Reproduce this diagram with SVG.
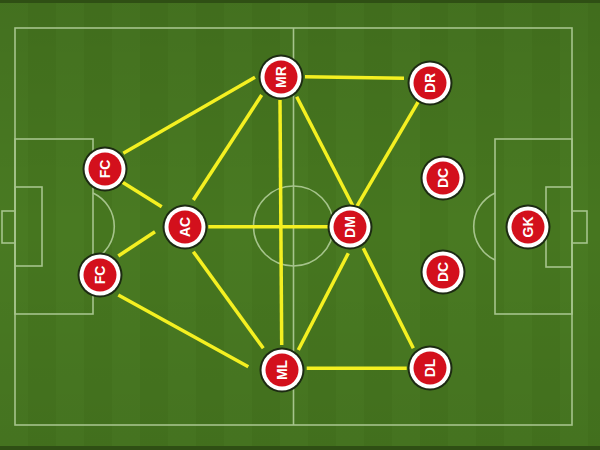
<svg xmlns="http://www.w3.org/2000/svg" width="600" height="450" viewBox="0 0 600 450">
  <defs>
    <pattern id="stripes" x="0" y="0" width="56" height="450" patternUnits="userSpaceOnUse">
      <rect x="0" y="0" width="28" height="450" fill="#497a22"/>
      <rect x="28" y="0" width="28" height="450" fill="#46761f"/>
    </pattern>
    <linearGradient id="shade" x1="0" y1="0" x2="0" y2="1">
      <stop offset="0" stop-color="#000" stop-opacity="0.08"/>
      <stop offset="0.5" stop-color="#000" stop-opacity="0"/>
      <stop offset="1" stop-color="#000" stop-opacity="0.06"/>
    </linearGradient>
  </defs>
  <style>
    .pitch { fill: none; stroke: #a6c48c; stroke-width: 1.6; }
    .link { stroke: #f4f021; stroke-width: 3.5; stroke-linecap: butt; fill: none; }
    .rim { fill: #1c2a12; }
    .ring { fill: #ffffff; }
    .core { fill: #d3101c; }
    .lbl { font-family: "Liberation Sans", Arial, sans-serif; font-weight: bold; font-size: 14px; fill: #ffffff; text-anchor: middle; dominant-baseline: central; }
  </style>

  <!-- background -->
  <rect x="0" y="0" width="600" height="450" fill="url(#stripes)"/>
  <rect x="0" y="0" width="600" height="450" fill="url(#shade)"/>
  <rect x="0" y="0" width="600" height="3" fill="#2f4f14"/>
  <rect x="0" y="446" width="600" height="4" fill="#2f4f14"/>

  <!-- pitch markings -->
  <g id="pitch">
    <rect class="pitch" x="15" y="28" width="557" height="397"/>
    <line class="pitch" x1="293.5" y1="28" x2="293.5" y2="425"/>
    <circle class="pitch" cx="293.5" cy="226" r="40"/>
    <!-- left -->
    <rect class="pitch" x="15" y="139" width="78" height="175"/>
    <rect class="pitch" x="15" y="187" width="27" height="79"/>
    <rect class="pitch" x="2" y="211" width="13" height="32"/>
    <path class="pitch" d="M93,193 A37,37 0 0 1 93,260"/>
    <!-- right -->
    <rect class="pitch" x="495" y="139" width="77" height="175"/>
    <rect class="pitch" x="546" y="187" width="26" height="80"/>
    <rect class="pitch" x="572" y="211" width="15" height="32"/>
    <path class="pitch" d="M495,193 A37,37 0 0 0 495,260"/>
  </g>

  <!-- connectors -->
  <g id="connectors">
    <line class="link" x1="305" y1="76.7" x2="404" y2="78.3"/>
    <line class="link" x1="255" y1="77.3" x2="123.3" y2="153.3"/>
    <line class="link" x1="261.7" y1="95" x2="193.3" y2="200"/>
    <line class="link" x1="280" y1="100" x2="281.7" y2="345"/>
    <line class="link" x1="296.7" y1="96.7" x2="353.3" y2="206.7"/>
    <line class="link" x1="121.7" y1="181.7" x2="161.7" y2="206.7"/>
    <line class="link" x1="208.3" y1="226.7" x2="328.3" y2="226.7"/>
    <line class="link" x1="155" y1="231.7" x2="118.3" y2="256"/>
    <line class="link" x1="193.3" y1="251.7" x2="263.3" y2="348.3"/>
    <line class="link" x1="118.3" y1="295" x2="248.3" y2="366.7"/>
    <line class="link" x1="418.3" y1="101.7" x2="356.7" y2="206.7"/>
    <line class="link" x1="348.3" y1="253.3" x2="298.3" y2="350"/>
    <line class="link" x1="363.3" y1="248.3" x2="413.3" y2="348.3"/>
    <line class="link" x1="306.7" y1="368.3" x2="406.7" y2="368.3"/>
  </g>

  <!-- nodes -->
  <g id="node-mr" transform="translate(281,77)">
    <circle class="rim" r="22.5"/><circle class="ring" r="20.5"/><circle class="core" r="16.5"/>
    <text class="lbl" transform="rotate(-90)">MR</text>
  </g>
  <g id="node-dr" transform="translate(430,83)">
    <circle class="rim" r="22.5"/><circle class="ring" r="20.5"/><circle class="core" r="16.5"/>
    <text class="lbl" transform="rotate(-90)">DR</text>
  </g>
  <g id="node-fc-top" transform="translate(105,169)">
    <circle class="rim" r="22.5"/><circle class="ring" r="20.5"/><circle class="core" r="16.5"/>
    <text class="lbl" transform="rotate(-90)">FC</text>
  </g>
  <g id="node-dc-top" transform="translate(443,178)">
    <circle class="rim" r="22.5"/><circle class="ring" r="20.5"/><circle class="core" r="16.5"/>
    <text class="lbl" transform="rotate(-90)">DC</text>
  </g>
  <g id="node-ac" transform="translate(185,227)">
    <circle class="rim" r="22.5"/><circle class="ring" r="20.5"/><circle class="core" r="16.5"/>
    <text class="lbl" transform="rotate(-90)">AC</text>
  </g>
  <g id="node-dm" transform="translate(350,227)">
    <circle class="rim" r="22.5"/><circle class="ring" r="20.5"/><circle class="core" r="16.5"/>
    <text class="lbl" transform="rotate(-90)">DM</text>
  </g>
  <g id="node-gk" transform="translate(528,227)">
    <circle class="rim" r="22.5"/><circle class="ring" r="20.5"/><circle class="core" r="16.5"/>
    <text class="lbl" transform="rotate(-90)">GK</text>
  </g>
  <g id="node-fc-bottom" transform="translate(100,275)">
    <circle class="rim" r="22.5"/><circle class="ring" r="20.5"/><circle class="core" r="16.5"/>
    <text class="lbl" transform="rotate(-90)">FC</text>
  </g>
  <g id="node-dc-bottom" transform="translate(443,272)">
    <circle class="rim" r="22.5"/><circle class="ring" r="20.5"/><circle class="core" r="16.5"/>
    <text class="lbl" transform="rotate(-90)">DC</text>
  </g>
  <g id="node-ml" transform="translate(282,370)">
    <circle class="rim" r="22.5"/><circle class="ring" r="20.5"/><circle class="core" r="16.5"/>
    <text class="lbl" transform="rotate(-90)">ML</text>
  </g>
  <g id="node-dl" transform="translate(430,368)">
    <circle class="rim" r="22.5"/><circle class="ring" r="20.5"/><circle class="core" r="16.5"/>
    <text class="lbl" transform="rotate(-90)">DL</text>
  </g>
</svg>
